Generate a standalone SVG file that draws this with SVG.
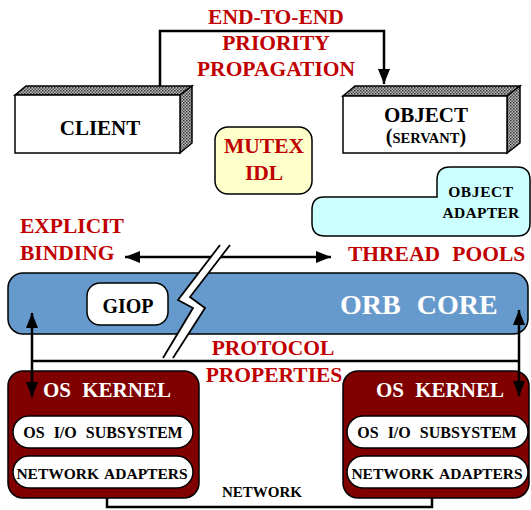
<svg xmlns="http://www.w3.org/2000/svg" width="531" height="510" viewBox="0 0 531 510">
<style>
.t{font-family:"Liberation Serif","Times New Roman",serif;font-weight:bold}
.red{fill:#C00000;font-size:21.5px}
.blk{fill:#000}
.wht{fill:#fff}
.ln{fill:none;stroke:#000;stroke-width:2.5}
.bx{stroke:#000;stroke-width:1.5}
.sub{font-size:16px;word-spacing:5px}
.nad{font-size:15.5px;word-spacing:2px}
</style>
<defs>
<pattern id="hatch" width="3" height="3" patternUnits="userSpaceOnUse">
<rect width="3" height="3" fill="#bbb"/>
<rect width="1.5" height="1.5" fill="#333"/>
<rect x="1.5" y="1.5" width="1.5" height="1.5" fill="#555"/>
</pattern>
<marker id="ah" viewBox="0 0 15 12" refX="15" refY="6" markerWidth="15" markerHeight="12" markerUnits="userSpaceOnUse" orient="auto-start-reverse">
<path d="M0,0 L15,6 L0,12 Z" fill="#000"/>
</marker>
</defs>

<g id="client">
<polygon points="15,95 26,86 192,86 180,95" fill="url(#hatch)" class="bx"/>
<polygon points="180,95 192,86 192,143 180,153" fill="url(#hatch)" class="bx"/>
<rect x="15" y="95" width="165" height="58" fill="#fff" class="bx"/>
<text class="t blk" x="100" y="135" font-size="21" text-anchor="middle">CLIENT</text>
</g>

<g id="object">
<polygon points="343,96 355,86 520,86 507,96" fill="url(#hatch)" class="bx"/>
<polygon points="507,96 520,86 520,143 507,153" fill="url(#hatch)" class="bx"/>
<rect x="343" y="96" width="164" height="57" fill="#fff" class="bx"/>
<text class="t blk" x="426" y="122" font-size="21" text-anchor="middle">OBJECT</text>
<text class="t blk" x="426" y="143" font-size="20" text-anchor="middle">(<tspan font-size="14.5">SERVANT</tspan>)</text>
</g>

<g id="priority-label">
<text class="t red" x="276" y="24" text-anchor="middle">END-TO-END</text>
<text class="t red" x="276" y="50" text-anchor="middle">PRIORITY</text>
<text class="t red" x="276" y="76" text-anchor="middle">PROPAGATION</text>
</g>

<g id="mutex-idl">
<rect x="215" y="127" width="97" height="67" rx="13" fill="#FFFFCC" class="bx"/>
<text class="t red" x="264" y="153" text-anchor="middle">MUTEX</text>
<text class="t red" x="264" y="180" text-anchor="middle">IDL</text>
</g>

<g id="object-adapter">
<path d="M324,197 H437 V180 Q437,167 450,167 H517 Q530,167 530,180 V223 Q530,236 517,236 H325 Q312,236 312,223 V210 Q312,197 324,197 Z" fill="#CCFFFF" class="bx"/>
<text class="t blk" x="481" y="197" font-size="15.5" letter-spacing="0.6" text-anchor="middle">OBJECT</text>
<text class="t blk" x="481" y="218" font-size="15.5" letter-spacing="0.3" text-anchor="middle">ADAPTER</text>
</g>

<g id="explicit-binding">
<text class="t red" x="20" y="233">EXPLICIT</text>
<text class="t red" x="20" y="260">BINDING</text>
</g>

<g id="thread-pools">
<text class="t red" x="348" y="261" word-spacing="7">THREAD POOLS</text>
</g>

<g id="orb-core">
<rect x="8" y="273" width="520" height="61" rx="15" fill="#6699CC" class="bx"/>
<text class="t wht" x="340" y="314" font-size="28" word-spacing="9">ORB CORE</text>
</g>

<g id="giop">
<rect x="87" y="283" width="81" height="42" rx="13" fill="#fff" class="bx"/>
<text class="t blk" x="128" y="313" font-size="20" text-anchor="middle">GIOP</text>
</g>

<g id="os-kernel-left">
<rect x="8" y="371" width="191" height="127" rx="15" fill="#800000" class="bx"/>
<text class="t wht" x="107" y="397" font-size="21" word-spacing="6" text-anchor="middle">OS KERNEL</text>
<rect x="13" y="416" width="180" height="32" rx="16" fill="#fff" class="bx"/>
<text class="t blk sub" x="103" y="438" text-anchor="middle">OS I/O SUBSYSTEM</text>
<rect x="13" y="456" width="180" height="32" rx="16" fill="#fff" class="bx"/>
<text class="t blk nad" x="102" y="479" text-anchor="middle">NETWORK ADAPTERS</text>
</g>

<g id="os-kernel-right">
<rect x="343" y="371" width="186" height="127" rx="15" fill="#800000" class="bx"/>
<text class="t wht" x="440" y="397" font-size="21" word-spacing="6" text-anchor="middle">OS KERNEL</text>
<rect x="347" y="416" width="181" height="32" rx="16" fill="#fff" class="bx"/>
<text class="t blk sub" x="437" y="438" text-anchor="middle">OS I/O SUBSYSTEM</text>
<rect x="347" y="456" width="181" height="32" rx="16" fill="#fff" class="bx"/>
<text class="t blk nad" x="437" y="479" text-anchor="middle">NETWORK ADAPTERS</text>
</g>

<g id="connectors">
<path class="ln" d="M160,86 V31 H384 V84" marker-end="url(#ah)"/>
<line class="ln" x1="125" y1="257" x2="331" y2="257" marker-start="url(#ah)" marker-end="url(#ah)"/>
<line class="ln" x1="32" y1="361" x2="519" y2="361"/>
<line class="ln" x1="32" y1="313" x2="32" y2="397" marker-start="url(#ah)" marker-end="url(#ah)"/>
<line class="ln" x1="519" y1="310" x2="519" y2="396" marker-start="url(#ah)" marker-end="url(#ah)"/>
<path class="ln" d="M107,498 V507 H432 V498"/>
</g>

<g id="break">
<polygon points="220,245 230,245 190,297 205,308 173,358 163,358 193,308 178,300" fill="#fff"/>
<polyline points="220,245 178,300 193,308 163,358" fill="none" stroke="#000" stroke-width="1.8"/>
<polyline points="230,245 190,297 205,308 173,358" fill="none" stroke="#000" stroke-width="1.8"/>
</g>

<g id="protocol-label">
<text class="t red" x="273" y="355" text-anchor="middle">PROTOCOL</text>
<text class="t red" x="274" y="382" text-anchor="middle">PROPERTIES</text>
</g>

<g id="network-label">
<text class="t blk" x="262" y="497" font-size="15" text-anchor="middle">NETWORK</text>
</g>
</svg>
